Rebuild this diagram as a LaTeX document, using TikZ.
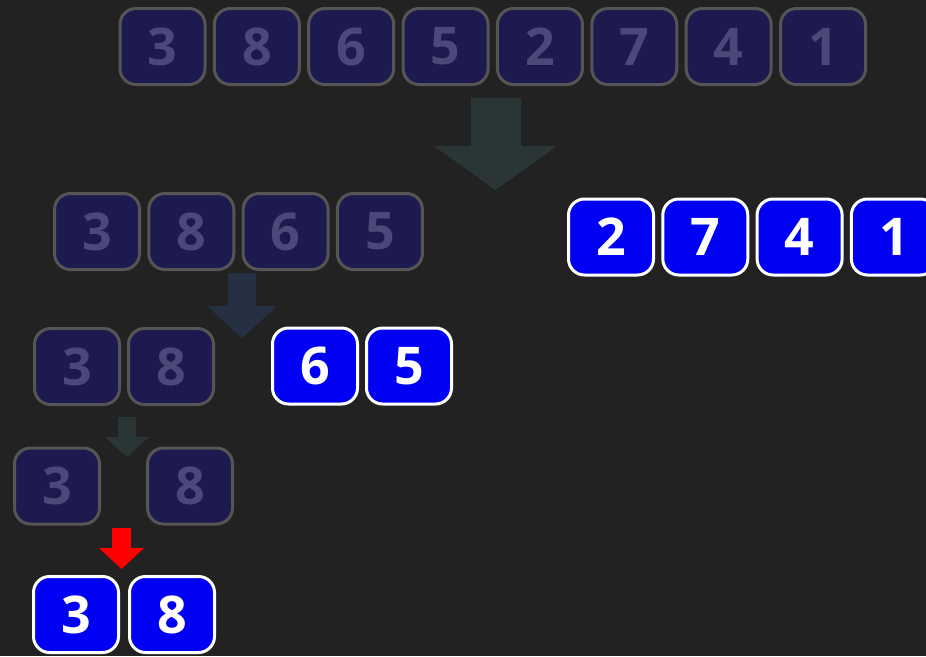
\documentclass[tikz,border=0pt]{standalone}
\usepackage{fontspec}
\setmainfont{Open Sans}
\definecolor{bgdark}{RGB}{34,34,34}
\definecolor{fadefill}{RGB}{28,26,78}
\definecolor{fadeline}{RGB}{85,85,85}
\definecolor{fadetext}{RGB}{76,72,122}
\definecolor{hotblue}{RGB}{0,0,242}
\definecolor{arrowteal}{RGB}{42,53,53}
\definecolor{arrowblue}{RGB}{37,48,66}
\tikzset{
  cell/.style={rounded corners=16pt,line width=3pt,minimum width=85pt,minimum height=76pt,
    inner sep=0pt,font=\fontsize{52}{52}\selectfont\bfseries},
  faded/.style={cell,draw=fadeline,fill=fadefill,text=fadetext},
  active/.style={cell,draw=white,fill=hotblue,text=white}
}

\begin{document}
\begin{tikzpicture}[x=1pt,y=-1pt]
    \fill[bgdark] (0,0) rectangle (926,656);
    \useasboundingbox (0,0) rectangle (926,656);
    % whole list
    \foreach \v [count=\i] in {3,8,6,5,2,7,4,1}
        \node[faded] (top\i) at ({162.5+94.36*(\i-1)},46.5) {\v};
    \fill[arrowteal] (471,98) -- (521,98) -- (521,146) -- (557,146) -- (495.5,190)
        -- (434,146) -- (471,146) -- cycle;
    % first split
    \foreach \v [count=\i] in {3,8,6,5}
        \node[faded] (left\i) at ({97+94.3*(\i-1)},231.5) {\v};
    \foreach \v [count=\i] in {2,7,4,1}
        \node[active] (right\i) at ({611+94.3*(\i-1)},237) {\v};
    \fill[arrowblue] (228,273) -- (256,273) -- (256,306) -- (277,306) -- (242,338)
        -- (207,306) -- (228,306) -- cycle;
    % second split
    \node[faded] (ll1) at (77,366.5) {3};
    \node[faded] (ll2) at (171,366.5) {8};
    \node[active] (lr1) at (315,366) {6};
    \node[active] (lr2) at (409,366) {5};
    \fill[arrowteal] (118,417) -- (136,417) -- (136,437) -- (149,437) -- (127,457)
        -- (105,437) -- (118,437) -- cycle;
    % single items
    \node[faded] (one1) at (57,486) {3};
    \node[faded] (one2) at (190,486) {8};
    \fill[red] (112,528) -- (131,528) -- (131,548) -- (144,548) -- (121.5,569)
        -- (99,548) -- (112,548) -- cycle;
    % merged
    \node[active] (merge1) at (76,614.5) {3};
    \node[active] (merge2) at (172,614.5) {8};
\end{tikzpicture}
\end{document}
